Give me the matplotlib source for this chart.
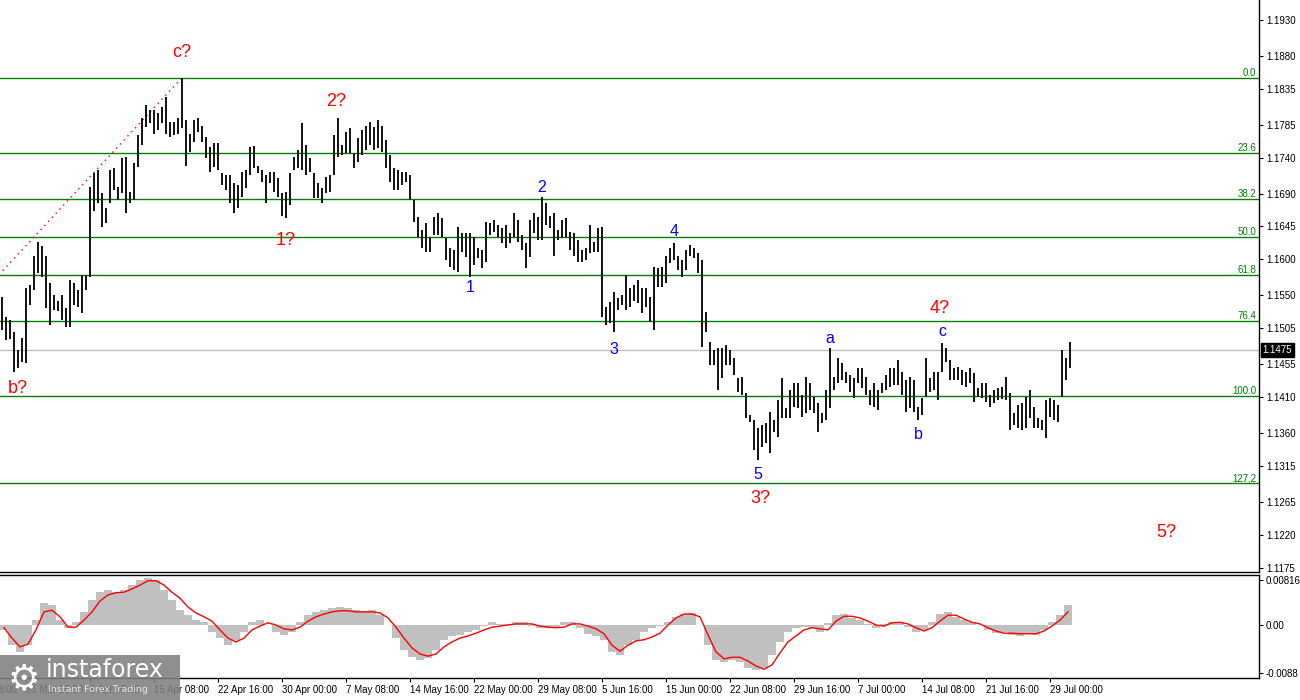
import numpy as np
import matplotlib
matplotlib.use("Agg")
import matplotlib.pyplot as plt
from matplotlib.patches import Rectangle
from matplotlib.transforms import blended_transform_factory

plt.rcParams['font.family'] = ['Liberation Sans', 'DejaVu Sans']

# price bars (8h each), high / low in pips
highs = [11548, 11520, 11516, 11499, 11475, 11491, 11560, 11564, 11605, 11623,
         11618, 11605, 11567, 11550, 11543, 11550, 11533, 11571, 11567, 11557,
         11578, 11578, 11699, 11718, 11723, 11691, 11670, 11723, 11725, 11699,
         11740, 11741, 11692, 11732, 11771, 11795, 11812, 11805, 11805, 11802,
         11809, 11823, 11789, 11789, 11795, 11850, 11791, 11773, 11791, 11794,
         11784, 11768, 11754, 11760, 11760, 11718, 11716, 11716, 11705, 11702,
         11720, 11723, 11754, 11756, 11729, 11723, 11716, 11720, 11720, 11712,
         11691, 11692, 11718, 11741, 11750, 11787, 11757, 11740, 11718, 11705,
         11698, 11713, 11716, 11771, 11795, 11757, 11775, 11780, 11746, 11767,
         11778, 11784, 11789, 11782, 11791, 11784, 11764, 11744, 11725, 11723,
         11720, 11720, 11716, 11681, 11658, 11640, 11650, 11630, 11658, 11663,
         11656, 11629, 11616, 11612, 11644, 11636, 11636, 11636, 11630, 11616,
         11612, 11651, 11650, 11654, 11647, 11643, 11647, 11636, 11663, 11654,
         11633, 11622, 11654, 11663, 11658, 11686, 11678, 11660, 11663, 11640,
         11654, 11656, 11637, 11636, 11626, 11612, 11615, 11647, 11623, 11643,
         11644, 11534, 11541, 11555, 11546, 11550, 11578, 11560, 11564, 11571,
         11560, 11560, 11548, 11589, 11588, 11589, 11605, 11616, 11622, 11605,
         11599, 11612, 11619, 11616, 11608, 11599, 11527, 11486, 11475, 11477,
         11477, 11482, 11475, 11464, 11436, 11437, 11416, 11385, 11378, 11367,
         11371, 11374, 11389, 11378, 11406, 11436, 11395, 11420, 11430, 11430,
         11413, 11437, 11429, 11410, 11402, 11388, 11420, 11477, 11437, 11464,
         11457, 11444, 11440, 11436, 11450, 11450, 11437, 11420, 11430, 11420,
         11430, 11440, 11450, 11450, 11461, 11444, 11433, 11437, 11433, 11396,
         11409, 11464, 11436, 11444, 11444, 11484, 11477, 11461, 11450, 11451,
         11447, 11444, 11450, 11443, 11422, 11429, 11430, 11413, 11420, 11422,
         11424, 11437, 11416, 11388, 11399, 11402, 11410, 11420, 11396, 11381,
         11378, 11406, 11409, 11406, 11399, 11475, 11464, 11486]
lows = [11502, 11488, 11490, 11444, 11450, 11458, 11457, 11537, 11557, 11581,
        11575, 11533, 11509, 11530, 11528, 11516, 11506, 11506, 11537, 11534,
        11526, 11557, 11575, 11667, 11678, 11644, 11650, 11677, 11695, 11681,
        11691, 11663, 11677, 11681, 11727, 11757, 11782, 11787, 11773, 11778,
        11787, 11773, 11768, 11771, 11773, 11780, 11729, 11747, 11761, 11775,
        11761, 11740, 11720, 11727, 11723, 11702, 11695, 11678, 11663, 11671,
        11686, 11698, 11716, 11725, 11718, 11706, 11678, 11705, 11692, 11686,
        11660, 11656, 11674, 11723, 11725, 11723, 11716, 11720, 11684, 11684,
        11677, 11691, 11692, 11716, 11741, 11744, 11746, 11746, 11725, 11734,
        11744, 11750, 11757, 11750, 11753, 11747, 11725, 11706, 11695, 11695,
        11702, 11706, 11681, 11651, 11630, 11616, 11610, 11610, 11633, 11633,
        11629, 11599, 11589, 11585, 11582, 11610, 11603, 11575, 11592, 11601,
        11588, 11596, 11633, 11637, 11630, 11622, 11615, 11622, 11630, 11623,
        11612, 11588, 11603, 11636, 11626, 11626, 11647, 11643, 11605, 11626,
        11629, 11630, 11612, 11605, 11596, 11596, 11599, 11608, 11610, 11610,
        11520, 11509, 11512, 11499, 11530, 11537, 11530, 11534, 11543, 11539,
        11526, 11534, 11513, 11502, 11561, 11561, 11567, 11595, 11599, 11585,
        11575, 11585, 11605, 11601, 11581, 11479, 11499, 11454, 11454, 11420,
        11436, 11454, 11454, 11440, 11417, 11413, 11381, 11375, 11337, 11323,
        11341, 11347, 11333, 11362, 11355, 11381, 11381, 11381, 11396, 11395,
        11382, 11388, 11392, 11388, 11362, 11374, 11378, 11395, 11420, 11430,
        11433, 11430, 11417, 11409, 11429, 11422, 11413, 11399, 11396, 11392,
        11416, 11420, 11424, 11426, 11426, 11413, 11389, 11395, 11389, 11378,
        11385, 11410, 11417, 11420, 11406, 11444, 11458, 11433, 11433, 11433,
        11426, 11424, 11429, 11403, 11410, 11409, 11403, 11396, 11402, 11406,
        11408, 11406, 11365, 11371, 11367, 11365, 11367, 11381, 11367, 11367,
        11365, 11354, 11382, 11378, 11375, 11410, 11433, 11450]
last_price = 1.1475

# indicator, one value per two bars
macd_hist = [-0.0009, -0.0037, -0.0049, -0.0037, 0.0009, 0.0040, 0.0037, 0.0009, -0.0005, 0.0005,
             0.0024, 0.0046, 0.0060, 0.0064, 0.0060, 0.0064, 0.0073, 0.0082, 0.0086, 0.0082,
             0.0064, 0.0046, 0.0027, 0.0018, 0.0009, 0.0005, -0.0013, -0.0024, -0.0037, -0.0027,
             -0.0013, 0.0005, 0.0009, 0.0000, -0.0013, -0.0018, -0.0013, 0.0005, 0.0018, 0.0024,
             0.0027, 0.0031, 0.0033, 0.0031, 0.0027, 0.0026, 0.0027, 0.0018, 0.0000, -0.0024,
             -0.0046, -0.0059, -0.0064, -0.0060, -0.0046, -0.0027, -0.0020, -0.0018, -0.0013, -0.0009,
             -0.0002, 0.0005, 0.0002, 0.0002, 0.0005, 0.0005, -0.0002, -0.0005, -0.0005, -0.0004,
             0.0005, 0.0005, -0.0005, -0.0016, -0.0020, -0.0027, -0.0049, -0.0055, -0.0037, -0.0027,
             -0.0013, -0.0005, -0.0002, 0.0005, 0.0015, 0.0020, 0.0022, 0.0000, -0.0037, -0.0064,
             -0.0068, -0.0064, -0.0068, -0.0079, -0.0082, -0.0079, -0.0055, -0.0031, -0.0013, -0.0005,
             -0.0004, -0.0005, -0.0013, 0.0004, 0.0018, 0.0020, 0.0013, 0.0009, 0.0002, -0.0005,
             0.0002, 0.0005, 0.0005, -0.0004, -0.0013, -0.0009, 0.0005, 0.0020, 0.0024, 0.0015,
             0.0009, 0.0005, 0.0000, -0.0009, -0.0015, -0.0013, -0.0018, -0.0020, -0.0015, -0.0018,
             -0.0009, 0.0005, 0.0018, 0.0037]
macd_signal = [-0.0005, -0.0024, -0.0040, -0.0035, -0.0009, 0.0024, 0.0027, 0.0015, -0.0004, -0.0004,
               0.0009, 0.0024, 0.0044, 0.0055, 0.0059, 0.0060, 0.0066, 0.0073, 0.0081, 0.0081,
               0.0073, 0.0060, 0.0049, 0.0033, 0.0022, 0.0015, 0.0007, -0.0009, -0.0024, -0.0031,
               -0.0024, -0.0009, -0.0002, 0.0004, 0.0000, -0.0007, -0.0009, -0.0004, 0.0007, 0.0015,
               0.0020, 0.0024, 0.0026, 0.0026, 0.0024, 0.0024, 0.0024, 0.0022, 0.0013, -0.0004,
               -0.0024, -0.0042, -0.0053, -0.0057, -0.0053, -0.0040, -0.0031, -0.0024, -0.0020, -0.0015,
               -0.0009, -0.0004, -0.0002, 0.0000, 0.0002, 0.0002, 0.0002, -0.0002, -0.0004, -0.0005,
               -0.0004, 0.0002, 0.0002, -0.0002, -0.0007, -0.0016, -0.0037, -0.0048, -0.0037, -0.0029,
               -0.0027, -0.0022, -0.0015, 0.0000, 0.0013, 0.0020, 0.0020, 0.0015, -0.0018, -0.0049,
               -0.0062, -0.0059, -0.0059, -0.0066, -0.0075, -0.0081, -0.0073, -0.0051, -0.0031, -0.0020,
               -0.0009, -0.0005, -0.0007, -0.0009, 0.0007, 0.0016, 0.0016, 0.0013, 0.0007, 0.0000,
               -0.0002, 0.0004, 0.0005, 0.0002, -0.0005, -0.0011, -0.0005, 0.0007, 0.0018, 0.0018,
               0.0011, 0.0005, 0.0002, -0.0005, -0.0011, -0.0015, -0.0015, -0.0016, -0.0016, -0.0016,
               -0.0011, -0.0002, 0.0009, 0.0024]

# fibonacci grid
fib_ratios = [0.0, 23.6, 38.2, 50.0, 61.8, 76.4, 100.0, 127.2]
fib_texts = ['0.0', '23.6', '38.2', '50.0', '61.8', '76.4', '100.0', '127,2']
fib_high = 1.1850
fib_low = 1.1411
fib_low_bar = -29   # anchor of the fib line, off screen
fib_high_bar = 45

price_ticks = [1.1930, 1.1880, 1.1835, 1.1785, 1.1740, 1.1690, 1.1645, 1.1600, 1.1550,
               1.1505, 1.1455, 1.1410, 1.1360, 1.1315, 1.1265, 1.1220, 1.1175]

tick_bars = [6, 22, 38, 54, 70, 86, 102, 118, 134, 150, 166, 182, 198, 214, 230, 246, 262]
tick_texts = ['31 Mar 16:00', '8 Apr 00:00', '15 Apr 08:00', '22 Apr 16:00', '30 Apr 00:00',
              '7 May 08:00', '14 May 16:00', '22 May 00:00', '29 May 08:00', '5 Jun 16:00',
              '15 Jun 00:00', '22 Jun 08:00', '29 Jun 16:00', '7 Jul 00:00', '14 Jul 08:00',
              '21 Jul 16:00', '29 Jul 00:00']

# wave marks: text, bar, anchor, offset px (dx, dy), colour
waves = [('c?', 45, 'high', 0, 25, 'red'), ('b?', 3, 'low', 4, -16, 'red'),
         ('2?', 84, 'high', -2, 16, 'red'), ('1?', 71, 'low', 0, -22, 'red'),
         ('2', 135, 'high', 0, 9, 'blue'), ('1', 117, 'low', 0, -10, 'blue'),
         ('3', 153, 'low', 0, -17, 'blue'), ('4', 168, 'high', 0, 12, 'blue'),
         ('5', 189, 'low', 0, -14, 'blue'), ('3?', 189, 'low', 2, -38, 'red'),
         ('a', 207, 'high', 0, 10, 'blue'), ('b', 229, 'low', 0, -14, 'blue'),
         ('c', 235, 'high', 0, 12, 'blue'), ('4?', 235, 'high', -2, 35, 'red')]
free_wave = ('5?', 291, 1.1224)

hi = np.array(highs) / 10000.0
lo = np.array(lows) / 10000.0
bars = np.arange(len(hi))
ind_x = np.arange(len(macd_hist)) * 2 + 0.5

fig = plt.figure(figsize=(13, 7), dpi=100)
ax = fig.add_axes([0, 1 - 572 / 700, 1259 / 1300, 572 / 700])
ax2 = fig.add_axes([0, 1 - 678 / 700, 1259 / 1300, 103 / 700])

xmin, xmax = -0.5, 314.25
fsz = 7

# main panel
ax.axhline(last_price, color='#c0c0c0', lw=1, zorder=1)
for r, t in zip(fib_ratios, fib_texts):
    lvl = fib_high - (fib_high - fib_low) * r / 100.0
    ax.axhline(lvl, color='#008000', lw=1, zorder=1)
    ax.text(0.998, lvl, t, transform=blended_transform_factory(ax.transAxes, ax.transData),
            ha='right', va='bottom', color='#008000', fontsize=fsz)
ax.plot([fib_low_bar, fib_high_bar], [fib_low, fib_high], color='red', lw=1,
        ls=(0, (1, 3)), zorder=2)
ax.vlines(bars, lo, hi, color='black', lw=1.3, zorder=3)

for t, b, anc, dx, dy, c in waves:
    yv = hi[b] if anc == 'high' else lo[b]
    ax.annotate(t, (b, yv), xytext=(dx, dy), textcoords='offset pixels',
                ha='center', va='center', color=c,
                fontsize=13 if c == 'red' else 11.5)
ax.text(free_wave[1], free_wave[2], free_wave[0], ha='center', va='center',
        color='red', fontsize=13)

ax.set_xlim(xmin, xmax)
ax.set_ylim(1.1169, 1.1957)
ax.set_xticks([])
ax.yaxis.tick_right()
ax.set_yticks(price_ticks)
ax.set_yticklabels([f'{v:.4f}' for v in price_ticks])
ax.tick_params(axis='y', direction='out', length=3, width=0.8, labelsize=fsz, pad=2)
for s in ['left', 'top']:
    ax.spines[s].set_visible(False)
ax.spines['right'].set_linewidth(1)
ax.spines['bottom'].set_linewidth(1)
ax.text(1.003, last_price, f'{last_price:.4f}', transform=blended_transform_factory(ax.transAxes, ax.transData),
        ha='left', va='center', color='white', fontsize=fsz,
        bbox=dict(boxstyle='square,pad=0.2', fc='black', ec='black'))

# indicator panel
ax2.bar(ind_x, macd_hist, width=2.0, color='#c0c0c0', linewidth=0)
ax2.plot(ind_x, macd_signal, color='red', lw=1)
ax2.set_xlim(xmin, xmax)
ax2.set_ylim(-0.0097, 0.00915)
ax2.yaxis.tick_right()
ax2.set_yticks([0.00816, 0.0, -0.0088])
ax2.set_yticklabels(['0.00816', '0.00', '-0.0088'])
ax2.tick_params(axis='y', direction='out', length=3, width=0.8, labelsize=fsz, pad=2)
ax2.set_xticks(tick_bars)
ax2.set_xticklabels(tick_texts, ha='left')
ax2.tick_params(axis='x', direction='out', length=3, width=0.8, labelsize=fsz, pad=2)
ax2.spines['left'].set_visible(False)
for s in ['top', 'bottom', 'right']:
    ax2.spines[s].set_linewidth(1)
fig.text(17 / 1300, 10 / 700, '8:00', ha='right', va='center', fontsize=fsz)

# logo
fig.add_artist(Rectangle((0, 0), 180 / 1300, 45 / 700, transform=fig.transFigure,
                         facecolor='#808080', alpha=0.88, edgecolor='none', zorder=5))
fig.text(24 / 1300, 21 / 700, '\u2699', ha='center', va='center', color='white',
         fontsize=26, family='DejaVu Sans', zorder=6)
fig.text(46 / 1300, 30 / 700, 'instaforex', ha='left', va='center', color='white',
         fontsize=17, family='DejaVu Sans', zorder=6)
fig.text(48 / 1300, 10 / 700, 'Instant Forex Trading', ha='left', va='center', color='#e6e6e6',
         fontsize=6.8, family='DejaVu Sans', zorder=6)

fig.savefig('out.png', dpi=100)
